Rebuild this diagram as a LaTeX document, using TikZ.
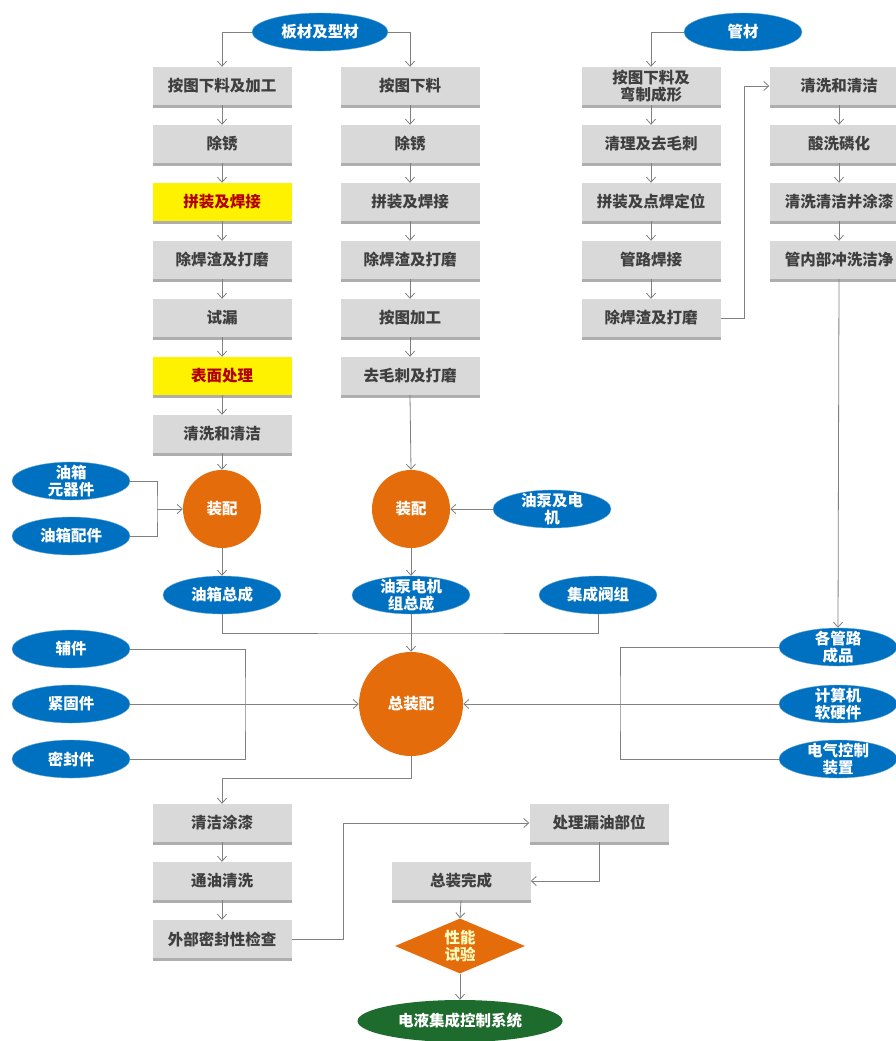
\documentclass[tikz,border=0pt]{standalone}
\usepackage{fontspec}
\newfontfamily\cjk{Noto Sans CJK SC}
\usetikzlibrary{shapes.geometric,shadows,arrows.meta}
\definecolor{boxgray}{HTML}{D9D9D9}
\definecolor{txtgray}{HTML}{3F3F3F}
\definecolor{elblue}{HTML}{0070C0}
\definecolor{asmorange}{HTML}{E46C0A}
\definecolor{dkgreen}{HTML}{1E6B2E}
\definecolor{linegray}{HTML}{808080}

\begin{document}
\begin{tikzpicture}[x=1pt,y=-1pt,
        every node/.style={font=\cjk\bfseries\fontsize{15.5}{17}\selectfont},
        proc/.style={rectangle,fill=boxgray,text=txtgray,minimum width=139pt,minimum height=38pt,inner sep=0pt,align=center,
            drop shadow={shadow xshift=0pt,shadow yshift=-2.5pt,fill=black!45,opacity=.7}},
        hl/.style={proc,fill=yellow,text=red!70!black},
        src/.style={ellipse,fill=elblue,draw=elblue!60!white,text=white,minimum width=118pt,minimum height=38pt,inner sep=-4pt,align=center},
        asm/.style={circle,fill=asmorange,text=white,minimum size=78pt,inner sep=0pt},
        flow/.style={draw=linegray,line width=0.8pt,-{Straight Barb[length=5pt,width=9pt]}},
        link/.style={draw=linegray,line width=0.8pt}]
        \fill[white] (0,0) rectangle (896,1041);
        \useasboundingbox (0,0) rectangle (896,1041);

        \node[src,minimum width=136pt] (m0) at (320,32) {板材及型材};
        \node[src] (p0) at (743,32) {管材};

        \node[proc] (a1) at (222,86) {按图下料及加工};
        \node[proc] (a2) at (222,144) {除锈};
        \node[hl]   (a3) at (222,202) {拼装及焊接};
        \node[proc] (a4) at (222,260) {除焊渣及打磨};
        \node[proc] (a5) at (222,318) {试漏};
        \node[hl]   (a6) at (222,376) {表面处理};
        \node[proc] (a7) at (222,434) {清洗和清洁};

        \node[proc] (b1) at (410,86) {按图下料};
        \node[proc] (b2) at (410,144) {除锈};
        \node[proc] (b3) at (410,202) {拼装及焊接};
        \node[proc] (b4) at (410,260) {除焊渣及打磨};
        \node[proc] (b5) at (410,318) {按图加工};
        \node[proc] (b6) at (410,376) {去毛刺及打磨};

        \node[proc] (c1) at (651,86) {按图下料及\\弯制成形};
        \node[proc] (c2) at (651,144) {清理及去毛刺};
        \node[proc] (c3) at (651,202) {拼装及点焊定位};
        \node[proc] (c4) at (651,260) {管路焊接};
        \node[proc] (c5) at (651,318) {除焊渣及打磨};

        \node[proc] (d1) at (839,86) {清洗和清洁};
        \node[proc] (d2) at (839,144) {酸洗磷化};
        \node[proc] (d3) at (839,202) {清洗清洁并涂漆};
        \node[proc] (d4) at (839,260) {管内部冲洗洁净};

        \node[asm] (s1) at (222,509) {装配};
        \node[asm] (s2) at (411,509) {装配};
        \node[asm,minimum size=104pt] (s3) at (411,704) {总装配};

        \node[src] (e1) at (71,481) {油箱\\元器件};
        \node[src] (e2) at (71,536) {油箱配件};
        \node[src] (e3) at (552,509) {油泵及电\\机};
        \node[src] (e4) at (222,595) {油箱总成};
        \node[src] (e5) at (411,595) {油泵电机\\组总成};
        \node[src] (e6) at (598,595) {集成阀组};
        \node[src] (e7) at (71,649) {辅件};
        \node[src] (e8) at (71,704) {紧固件};
        \node[src] (e9) at (71,759) {密封件};
        \node[src] (e10) at (838,647) {各管路\\成品};
        \node[src] (e11) at (838,704) {计算机\\软硬件};
        \node[src] (e12) at (838,759) {电气控制\\装置};

        \node[proc] (f1) at (222,823) {清洁涂漆};
        \node[proc] (f2) at (222,881) {通油清洗};
        \node[proc] (f3) at (222,939) {外部密封性检查};
        \node[proc] (g1) at (599,823) {处理漏油部位};
        \node[proc] (g2) at (461,881) {总装完成};
        \node[diamond,aspect=2.4,fill=asmorange,text=yellow!25,minimum width=130pt,minimum height=55pt,inner sep=-3pt,align=center] (t) at (460,946) {性能\\试验};
        \node[ellipse,fill=dkgreen,text=white,minimum width=205pt,minimum height=42pt,inner sep=0pt] (z) at (460,1021) {电液集成控制系统};

        \coordinate (j1) at (157,509);
        \coordinate (j2) at (411,633);
        \coordinate (j3) at (245,704);
        \coordinate (j4) at (620,704);
        \coordinate (j6) at (222,778);
        \coordinate (k1) at (744,318);
        \coordinate (k2) at (343,939);

        \draw[flow] (m0.west) -| (a1.north);
        \draw[flow] (m0.east) -| (b1.north);
        \draw[flow] (p0.west) -| (c1.north);
        \foreach \i/\j in {1/2,2/3,3/4,4/5,5/6,6/7}
            \draw[flow] (a\i.south) -- (a\j.north);
        \foreach \i/\j in {1/2,2/3,3/4,4/5,5/6}
            \draw[flow] (b\i.south) -- (b\j.north);
        \foreach \i/\j in {1/2,2/3,3/4,4/5}
            \draw[flow] (c\i.south) -- (c\j.north);
        \foreach \i/\j in {1/2,2/3,3/4}
            \draw[flow] (d\i.south) -- (d\j.north);
        \draw[flow] (c5.east) -- (k1) |- (d1.west);
        \draw[flow] (d4.south) -- (e10.north);

        \draw[flow] (a7.south) -- (s1.north);
        \draw[flow] (b6.south) -- (s2.north);
        \draw[link] (e1.east) -| (j1) |- (e2.east);
        \draw[flow] (j1) -- (s1.west);
        \draw[flow] (e3.west) -- (s2.east);
        \draw[flow] (s1.south) -- (e4.north);
        \draw[flow] (s2.south) -- (e5.north);
        \draw[link] (e4.south) |- (j2) -| (e6.south);
        \draw[flow] (e5.south) -- (s3.north);
        \draw[link] (e7.east) -| (j3) |- (e9.east);
        \draw[flow] (e8.east) -- (s3.west);
        \draw[link] (e10.west) -| (j4) |- (e12.west);
        \draw[flow] (e11.west) -- (s3.east);

        \draw[flow] (s3.south) |- (j6) -- (f1.north);
        \draw[flow] (f1.south) -- (f2.north);
        \draw[flow] (f2.south) -- (f3.north);
        \draw[flow] (f3.east) -- (k2) |- (g1.west);
        \draw[flow] (g1.south) |- (g2.east);
        \draw[flow] (g2.south) -- (t.north);
        \draw[flow] (t.south) -- (z.north);
    \end{tikzpicture}
\end{document}
